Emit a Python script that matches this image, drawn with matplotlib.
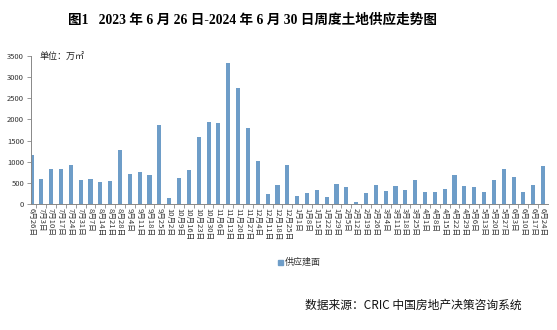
import matplotlib
matplotlib.use("Agg")
import matplotlib.pyplot as plt
import numpy as np

categories = ["6月26日", "7月3日", "7月10日", "7月17日", "7月24日", "7月31日", "8月7日", "8月14日",
              "8月21日", "8月28日", "9月4日", "9月11日", "9月18日", "9月25日", "10月2日", "10月9日",
              "10月16日", "10月23日", "10月30日", "11月6日", "11月13日", "11月20日", "11月27日",
              "12月4日", "12月11日", "12月18日", "12月25日", "1月1日", "1月8日", "1月15日", "1月22日",
              "1月29日", "2月5日", "2月12日", "2月19日", "2月26日", "3月4日", "3月11日", "3月18日",
              "3月25日", "4月1日", "4月8日", "4月15日", "4月22日", "4月29日", "5月6日", "5月13日",
              "5月20日", "5月27日", "6月3日", "6月10日", "6月17日", "6月24日"]
supply = [1160, 600, 830, 830, 930, 570, 590, 520, 540, 1280, 710, 750, 690, 1870, 150, 620,
          800, 1590, 1940, 1920, 3330, 2750, 1800, 1020, 240, 450, 920, 190, 260, 330, 160,
          470, 400, 50, 260, 450, 300, 420, 330, 560, 280, 280, 350, 680, 420, 400, 280,
          560, 820, 650, 280, 450, 900]
yticks = [0, 500, 1000, 1500, 2000, 2500, 3000, 3500]

cjk = ['Noto Sans CJK SC', 'DejaVu Sans']
plt.rcParams['font.family'] = cjk

W, H = 557, 330
fig = plt.figure(figsize=(W / 100, H / 100), dpi=100)
ax = fig.add_axes([31 / W, 1 - 204 / H, (548 - 31) / W, (204 - 56) / H])

x = np.arange(len(categories))
ax.bar(x, supply, width=0.42, color='#6E9DC8', zorder=2)

ax.set_xlim(-0.05, len(categories) - 0.5)
ax.set_ylim(0, 3500)
ax.set_yticks(yticks)
ax.set_yticklabels([str(v) for v in yticks], fontsize=5.5, color='#333333')
ax.set_xticks(x)
ax.set_xticklabels(categories, rotation=-90, fontsize=5.5, color='#333333', va='top', ha='center')
ax.tick_params(axis='x', length=0, pad=3)
ax.set_xticks(x[:-1] + 0.5, minor=True)
ax.tick_params(axis='x', which='minor', length=3, color='#888888', width=0.6)
ax.tick_params(axis='y', length=3, color='#888888', width=0.6, pad=2)

for s in ['top', 'right']:
    ax.spines[s].set_visible(False)
for s in ['left', 'bottom']:
    ax.spines[s].set_color('#888888')
    ax.spines[s].set_linewidth(0.7)

fig.text(253 / W, 1 - 20 / H, "图1   2023 年 6 月 26 日-2024 年 6 月 30 日周度土地供应走势图",
         ha='center', va='center', fontsize=9.8, fontweight='bold',
         family=['Liberation Serif', 'Noto Sans CJK SC'])
fig.text(40 / W, 1 - 57 / H, "单位：万㎡", ha='left', va='center', fontsize=6.5, color='#222222')

# legend
fig.patches.append(plt.Rectangle((278 / W, 1 - 265 / H), 5 / W, 5 / H,
                                 transform=fig.transFigure, color='#6E9DC8'))
fig.text(285 / W, 1 - 262.5 / H, "供应建面", ha='left', va='center', fontsize=6.5, color='#333333')

fig.text(305 / W, 1 - 305 / H, "数据来源：CRIC 中国房地产决策咨询系统", ha='left', va='center',
         fontsize=8.5, color='#111111')

fig.savefig("out.png", dpi=100)
